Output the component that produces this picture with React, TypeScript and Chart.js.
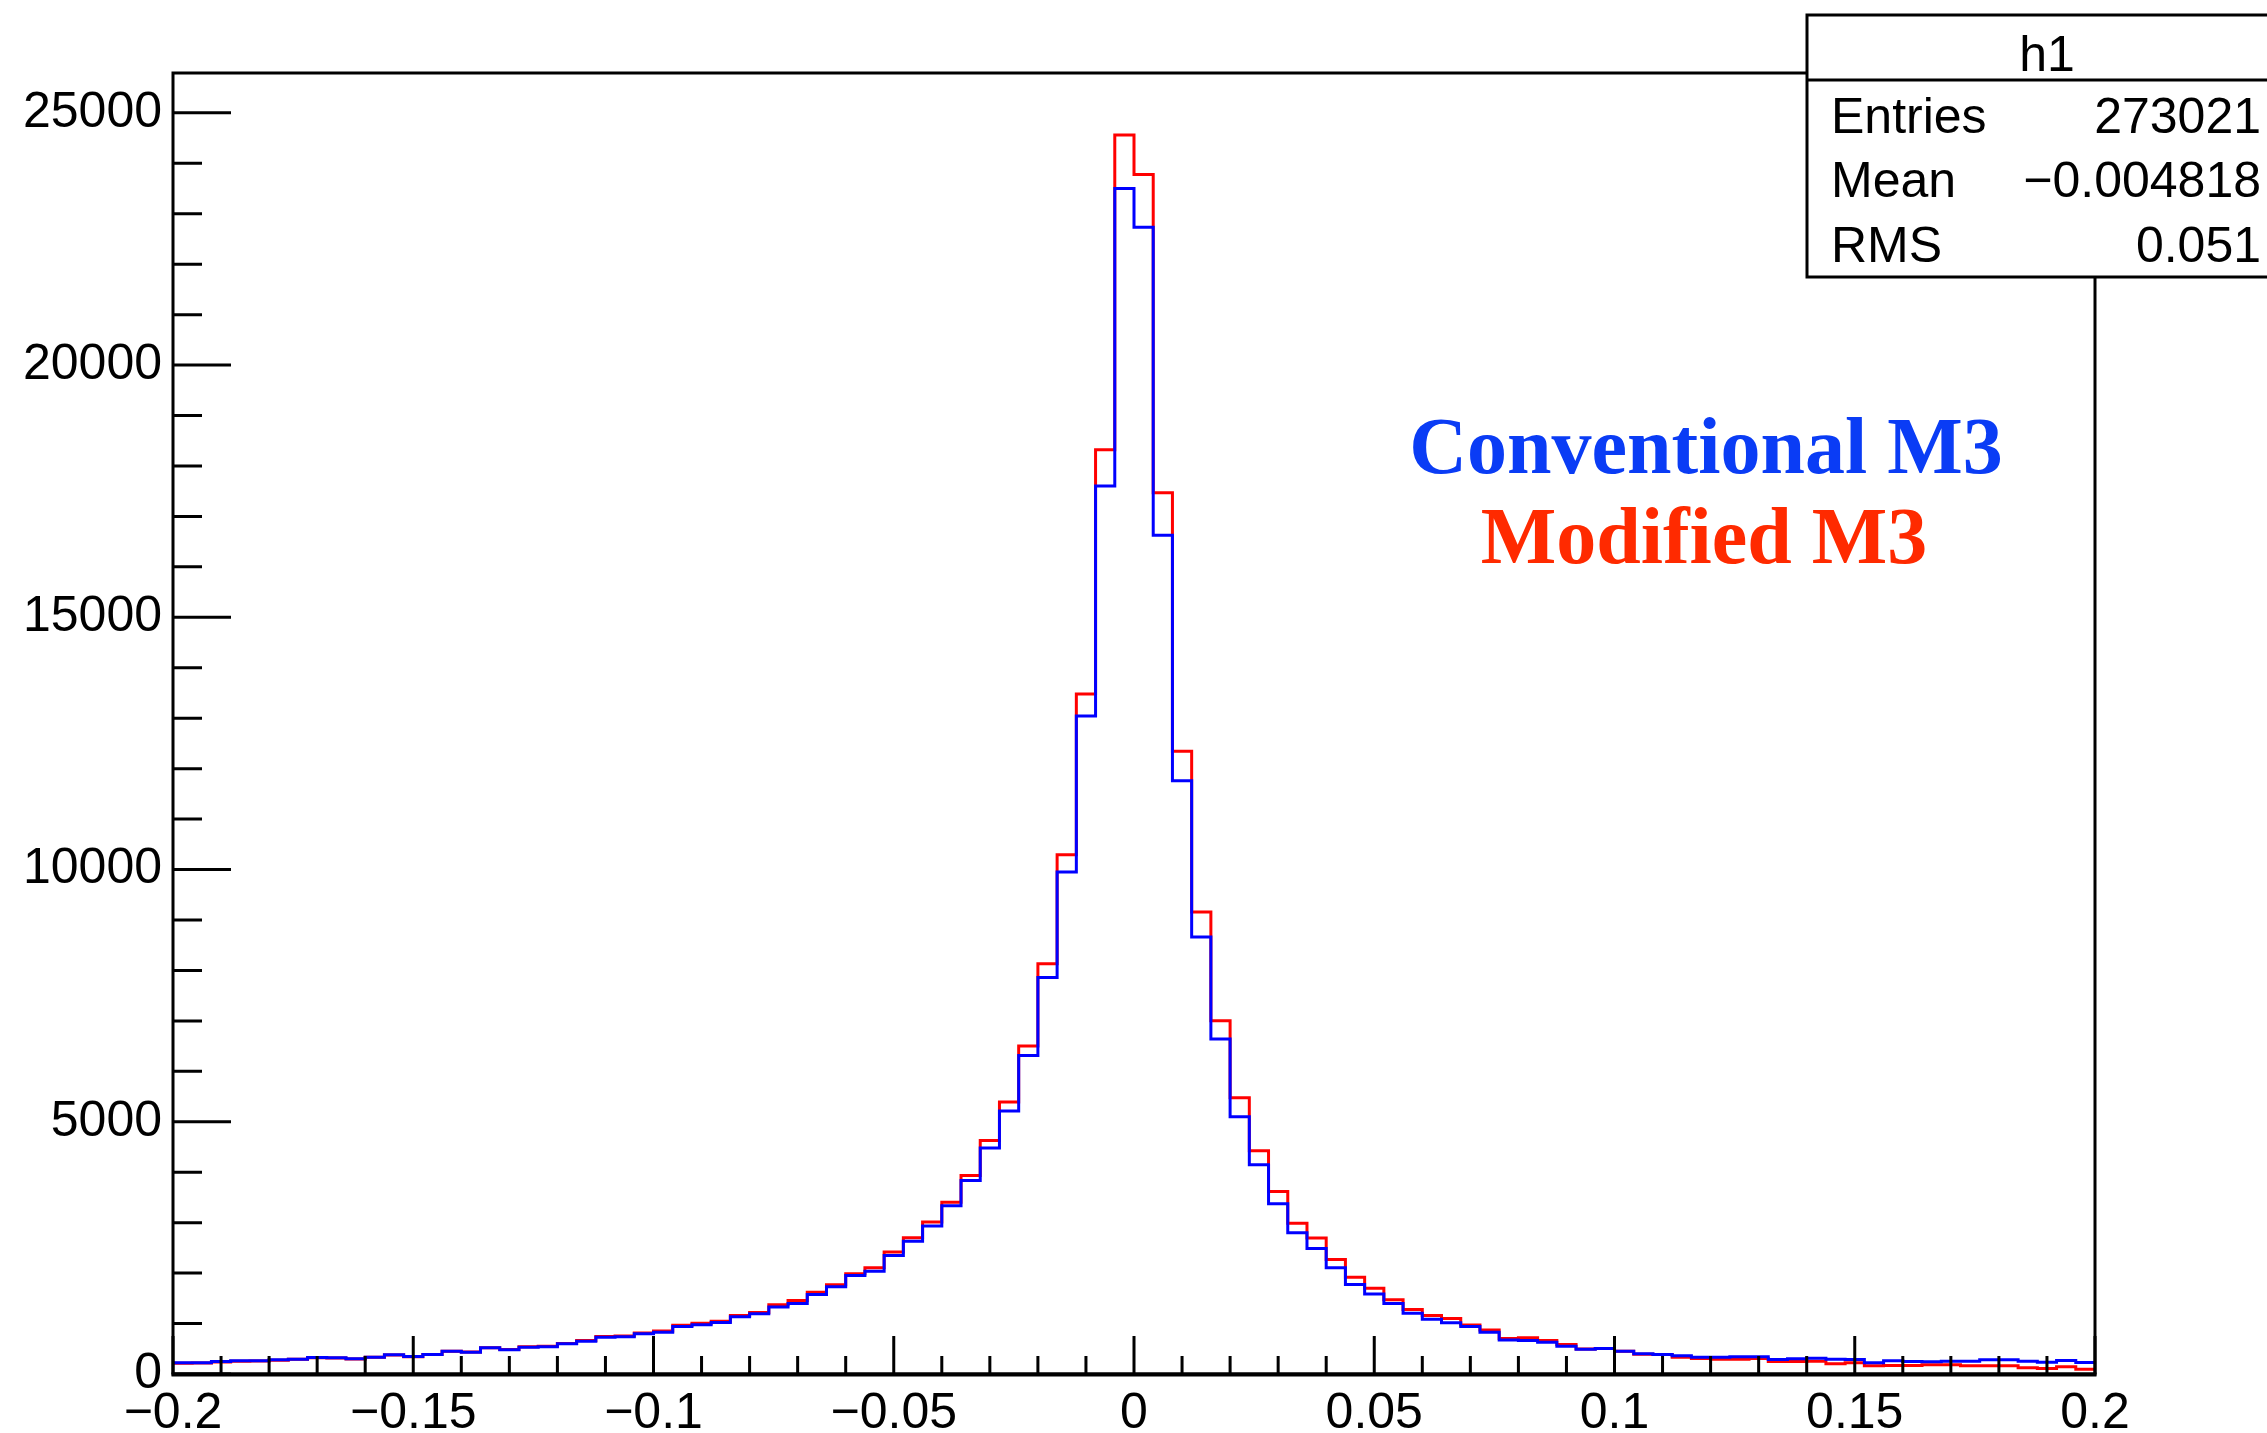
import React, { useEffect, useRef } from "react";
import { Chart, registerables } from "chart.js";

Chart.register(...registerables);

// ---------------- data ----------------
const X_MIN = -0.2;
const X_MAX = 0.2;
const BIN_WIDTH = 0.004;
const Y_MAX = 25790;

// Conventional M3 (blue), 100 bins from -0.2 to 0.2
const conventionalM3 = [
  221, 222, 248, 261, 261, 281, 294, 327, 320, 301,
  334, 380, 347, 387, 453, 433, 519, 479, 532, 539,
  598, 651, 730, 737, 797, 830, 942, 975, 1020, 1135,
  1193, 1330, 1398, 1576, 1730, 1953, 2039, 2350, 2634, 2932,
  3335, 3837, 4478, 5212, 6316, 7862, 9949, 13044, 17603, 23500,
  22730, 16625, 11760, 8665, 6640, 5100, 4150, 3375, 2800, 2487,
  2108, 1775, 1586, 1396, 1206, 1083, 1017, 942, 827, 674,
  664, 631, 552, 490, 505, 453, 400, 387, 361, 334,
  334, 341, 341, 288, 301, 314, 294, 288, 221, 261,
  248, 241, 255, 255, 281, 281, 255, 235, 268, 228,
];

// Modified M3 (red)
const modifiedM3 = [
  215, 218, 240, 255, 258, 275, 290, 322, 318, 298,
  330, 375, 340, 385, 450, 435, 520, 485, 540, 548,
  605, 665, 745, 752, 815, 850, 965, 1005, 1047, 1160,
  1220, 1372, 1457, 1622, 1768, 1987, 2105, 2416, 2700, 3011,
  3407, 3936, 4630, 5390, 6501, 8130, 10292, 13480, 18323, 24560,
  23780, 17470, 12345, 9160, 7005, 5475, 4425, 3620, 2990, 2695,
  2269, 1918, 1699, 1471, 1281, 1158, 1101, 970, 874, 704,
  720, 664, 585, 495, 505, 453, 390, 387, 334, 308,
  294, 294, 308, 248, 248, 255, 202, 221, 162, 168,
  168, 181, 181, 162, 162, 162, 122, 110, 142, 92,
];

const xTickValues = [-0.2, -0.15, -0.1, -0.05, 0, 0.05, 0.1, 0.15, 0.2];
const xTickLabels = ["\u22120.2", "\u22120.15", "\u22120.1", "\u22120.05", "0", "0.05", "0.1", "0.15", "0.2"];
const yTickValues = [0, 5000, 10000, 15000, 20000, 25000];
const yTickLabels = ["0", "5000", "10000", "15000", "20000", "25000"];

const X_MINOR_STEP = 0.01;
const Y_MINOR_STEP = 1000;

const statsTitle = "h1";
const statsNames = ["Entries", "Mean", "RMS"];
const statsValues = ["273021", "\u22120.004818", "0.051"];

const legendTexts = ["Conventional M3", "Modified M3"];
const legendColors = ["#0a3cf5", "#ff2a00"];

// --------------------------------------

function toSteps(values: number[]) {
  const pts = values.map((v, i) => ({ x: X_MIN + i * BIN_WIDTH, y: v }));
  pts.push({ x: X_MAX, y: values[values.length - 1] });
  return pts;
}

const rootDecor = {
  id: "rootDecor",
  afterDatasetsDraw(chart: any) {
    const { ctx, chartArea: a, scales } = chart;
    const x = scales.x;
    const y = scales.y;
    ctx.save();
    ctx.strokeStyle = "#000";
    ctx.lineWidth = 3;
    ctx.lineCap = "butt";
    ctx.beginPath();
    const nX = Math.round((X_MAX - X_MIN) / X_MINOR_STEP);
    for (let i = 0; i <= nX; i++) {
      const v = X_MIN + i * X_MINOR_STEP;
      const px = x.getPixelForValue(v);
      const len = i % 5 === 0 ? 38 : 18;
      ctx.moveTo(px, a.bottom);
      ctx.lineTo(px, a.bottom - len);
    }
    for (let v = 0; v <= Y_MAX; v += Y_MINOR_STEP) {
      const py = y.getPixelForValue(v);
      const len = v % 5000 === 0 ? 58 : 29;
      ctx.moveTo(a.left, py);
      ctx.lineTo(a.left + len, py);
    }
    ctx.stroke();
    ctx.strokeRect(a.left, a.top, a.right - a.left, a.bottom - a.top);
    // slightly heavier x axis line, as in the reference
    ctx.lineWidth = 4;
    ctx.beginPath();
    ctx.moveTo(a.left - 1.5, a.bottom + 0.5);
    ctx.lineTo(a.right + 1.5, a.bottom + 0.5);
    ctx.stroke();

    // annotation texts
    ctx.font = "bold 80px 'Liberation Serif', 'Times New Roman', serif";
    ctx.textAlign = "center";
    ctx.textBaseline = "alphabetic";
    ctx.fillStyle = legendColors[0];
    ctx.fillText(legendTexts[0], 1706, 473);
    ctx.fillStyle = legendColors[1];
    ctx.fillText(legendTexts[1], 1704, 563);
    ctx.restore();
  },
  afterDraw(chart: any) {
    const { ctx } = chart;
    ctx.save();
    const left = 1807;
    const top = 15;
    const right = 2300;
    const bottom = 277;
    ctx.fillStyle = "#fff";
    ctx.fillRect(left, top, right - left, bottom - top);
    ctx.strokeStyle = "#000";
    ctx.lineWidth = 3;
    ctx.strokeRect(left, top, right - left, bottom - top);
    ctx.beginPath();
    ctx.moveTo(left, 80);
    ctx.lineTo(right, 80);
    ctx.stroke();
    ctx.fillStyle = "#000";
    ctx.font = "50px 'Liberation Sans', Arial, sans-serif";
    ctx.textBaseline = "alphabetic";
    ctx.textAlign = "center";
    ctx.fillText(statsTitle, 2047, 71);
    const baselines = [133, 197, 262];
    for (let i = 0; i < statsNames.length; i++) {
      ctx.textAlign = "left";
      ctx.fillText(statsNames[i], 1831, baselines[i]);
      ctx.textAlign = "right";
      ctx.fillText(statsValues[i], 2261, baselines[i]);
    }
    ctx.restore();
  },
};

export default function App() {
  const canvasRef = useRef<HTMLCanvasElement | null>(null);

  useEffect(() => {
    if (!canvasRef.current) return;
    const chart = new Chart(canvasRef.current, {
      type: "line",
      data: {
        datasets: [
          {
            label: "Conventional M3",
            data: toSteps(conventionalM3),
            borderColor: "#0000ff",
            borderWidth: 3,
            pointRadius: 0,
            stepped: true,
            fill: false,
            tension: 0,
            borderJoinStyle: "miter",
          },
          {
            label: "Modified M3",
            data: toSteps(modifiedM3),
            borderColor: "#ff0000",
            borderWidth: 3,
            pointRadius: 0,
            stepped: true,
            fill: false,
            tension: 0,
            borderJoinStyle: "miter",
          },
        ],
      },
      options: {
        animation: false,
        responsive: false,
        devicePixelRatio: 1,
        layout: { padding: { left: 0, top: 73, right: 172, bottom: 0 } },
        plugins: {
          legend: { display: false },
          tooltip: { enabled: false },
          title: { display: false },
        },
        scales: {
          x: {
            type: "linear",
            min: X_MIN,
            max: X_MAX,
            grid: { display: false, drawTicks: false },
            border: { display: false },
            afterBuildTicks: (scale: any) => {
              scale.ticks = xTickValues.map((v) => ({ value: v }));
            },
            afterFit: (scale: any) => {
              scale.height = 59;
            },
            ticks: {
              autoSkip: false,
              maxRotation: 0,
              minRotation: 0,
              padding: 10,
              color: "#000",
              font: { family: "'Liberation Sans', Arial, sans-serif", size: 50 },
              callback: (_v: any, i: number) => xTickLabels[i],
            },
          },
          y: {
            type: "linear",
            min: 0,
            max: Y_MAX,
            grid: { display: false, drawTicks: false },
            border: { display: false },
            afterBuildTicks: (scale: any) => {
              scale.ticks = yTickValues.map((v) => ({ value: v }));
            },
            afterFit: (scale: any) => {
              scale.width = 173;
            },
            ticks: {
              autoSkip: false,
              padding: 11,
              color: "#000",
              font: { family: "'Liberation Sans', Arial, sans-serif", size: 50 },
              callback: (_v: any, i: number) => yTickLabels[i],
            },
          },
        },
      },
      plugins: [rootDecor],
    } as any);
    return () => chart.destroy();
  }, []);

  return (
    <div style={{ position: "fixed", left: 0, top: 0, width: "2267px", height: "1433px", background: "#fff" }}>
      <canvas ref={canvasRef} width={2267} height={1433} style={{ display: "block" }} />
    </div>
  );
}
